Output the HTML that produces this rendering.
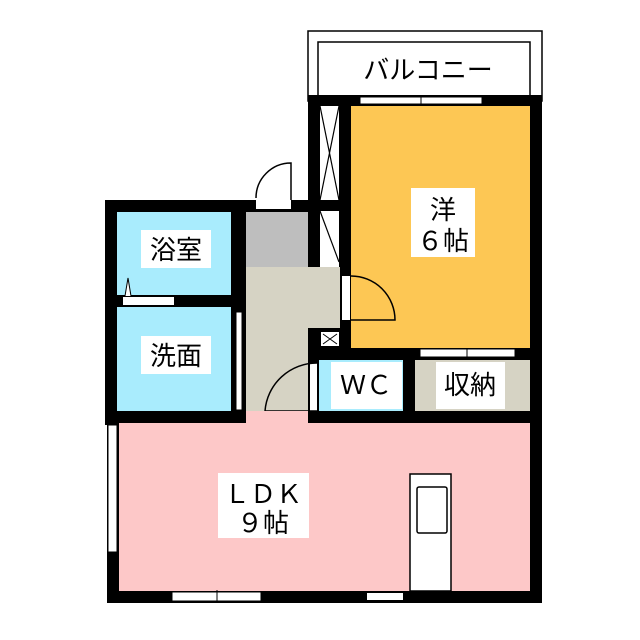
<!DOCTYPE html>
<html><head><meta charset="utf-8"><style>body{margin:0;background:#fff}svg{display:block}text{font-family:"Liberation Sans","Noto Sans CJK JP",sans-serif;fill:#000}</style></head>
<body><svg width="640" height="640" viewBox="0 0 640 640">
<rect width="640" height="640" fill="#fff"/>
<rect x="308" y="31" width="234" height="70" fill="#fff" stroke="#000" stroke-width="1.5"/>
<rect x="318" y="42" width="212" height="60" fill="#fff" stroke="#000" stroke-width="1.5"/>
<text x="428" y="79" font-size="26" text-anchor="middle">バルコニー</text>
<rect x="308" y="95" width="234" height="330" fill="#000"/>
<rect x="105" y="200" width="213" height="225" fill="#000"/>
<rect x="107" y="411" width="435" height="192" fill="#000"/>
<rect x="351" y="106" width="179" height="242" fill="#fdc754"/>
<rect x="320" y="106" width="19" height="94" fill="#fff"/>
<path d="M320 106L339 200M339 106L320 200" stroke="#000" stroke-width="1.2"/>
<rect x="320" y="211" width="19" height="56" fill="#fff"/>
<path d="M320 211L339 262" stroke="#000" stroke-width="1.2"/>
<rect x="117" y="212" width="114" height="83" fill="#a9ecfd"/>
<rect x="117" y="307" width="114" height="104" fill="#a9ecfd"/>
<rect x="123" y="297" width="51" height="8" fill="#fff"/>
<path d="M125 296L128 278L131 296" fill="#fff" stroke="#000" stroke-width="1"/>
<rect x="246" y="212" width="62" height="55" fill="#bebebe"/>
<rect x="246" y="267" width="94" height="61" fill="#d6d3c4"/>
<rect x="246" y="267" width="62" height="151" fill="#d6d3c4"/>
<rect x="236" y="312" width="6" height="98" fill="#fff" stroke="#000" stroke-width="1"/>
<rect x="256" y="200" width="35" height="9" fill="#fff"/>
<path d="M291 200V163A35 35 0 0 0 256 198" fill="#fff" stroke="#000" stroke-width="1.5"/>
<rect x="342" y="276" width="8" height="44" fill="#fff"/>
<path d="M351 276A44 44 0 0 1 395 320H351" fill="none" stroke="#000" stroke-width="1.5"/>
<rect x="321" y="332" width="18" height="14" fill="#fff"/>
<path d="M323 334L337 344M337 334L323 344" stroke="#000"/>
<rect x="319" y="360" width="84" height="51" fill="#a9ecfd"/>
<rect x="415" y="360" width="115" height="51" fill="#d6d3c4"/>
<rect x="420" y="349" width="95" height="8" fill="#fff" stroke="#000" stroke-width="1"/>
<line x1="467" y1="348" x2="467" y2="358" stroke="#000"/>
<rect x="360" y="97" width="122" height="7" fill="#fff" stroke="#000" stroke-width="1"/>
<line x1="421" y1="95" x2="421" y2="106" stroke="#000"/>
<rect x="310" y="363" width="7" height="48" fill="#fff"/>
<path d="M317 363A52 52 0 0 0 265 411H317" fill="none" stroke="#000" stroke-width="1.5"/>
<rect x="119" y="423" width="411" height="168" fill="#fdc8c8"/>
<rect x="246" y="411" width="62" height="12" fill="#fdc8c8"/>
<rect x="108" y="425" width="9" height="127" fill="#fff" stroke="#000" stroke-width="1"/>
<rect x="172" y="592" width="89" height="9" fill="#fff" stroke="#000" stroke-width="1"/>
<line x1="217" y1="590" x2="217" y2="603" stroke="#000"/>
<rect x="367" y="593" width="36" height="7" fill="#fff"/>
<rect x="410" y="474" width="41" height="117" fill="#fff" stroke="#000" stroke-width="1.5"/>
<rect x="417" y="487" width="30" height="46" rx="2" fill="#fff" stroke="#000" stroke-width="1.5"/>
<rect x="141" y="230" width="70" height="38" fill="#fff"/><text x="176" y="259" font-size="26" text-anchor="middle">浴室</text>
<rect x="141" y="336" width="70" height="38" fill="#fff"/><text x="176" y="365" font-size="26" text-anchor="middle">洗面</text>
<rect x="411" y="188" width="64" height="69" fill="#fff"/><text x="443" y="219" font-size="26" text-anchor="middle">洋</text><text x="443" y="250" font-size="26" text-anchor="middle">６帖</text>
<rect x="331" y="362" width="71" height="47" fill="#fff"/><text x="366" y="394" font-size="26" text-anchor="middle">ＷＣ</text>
<rect x="436" y="362" width="69" height="47" fill="#fff"/><text x="470" y="394" font-size="26" text-anchor="middle">収納</text>
<rect x="218" y="473" width="91" height="65" fill="#fff"/><text x="263" y="503" font-size="26" text-anchor="middle">ＬＤＫ</text><text x="263" y="532" font-size="26" text-anchor="middle">９帖</text>
</svg></body></html>
